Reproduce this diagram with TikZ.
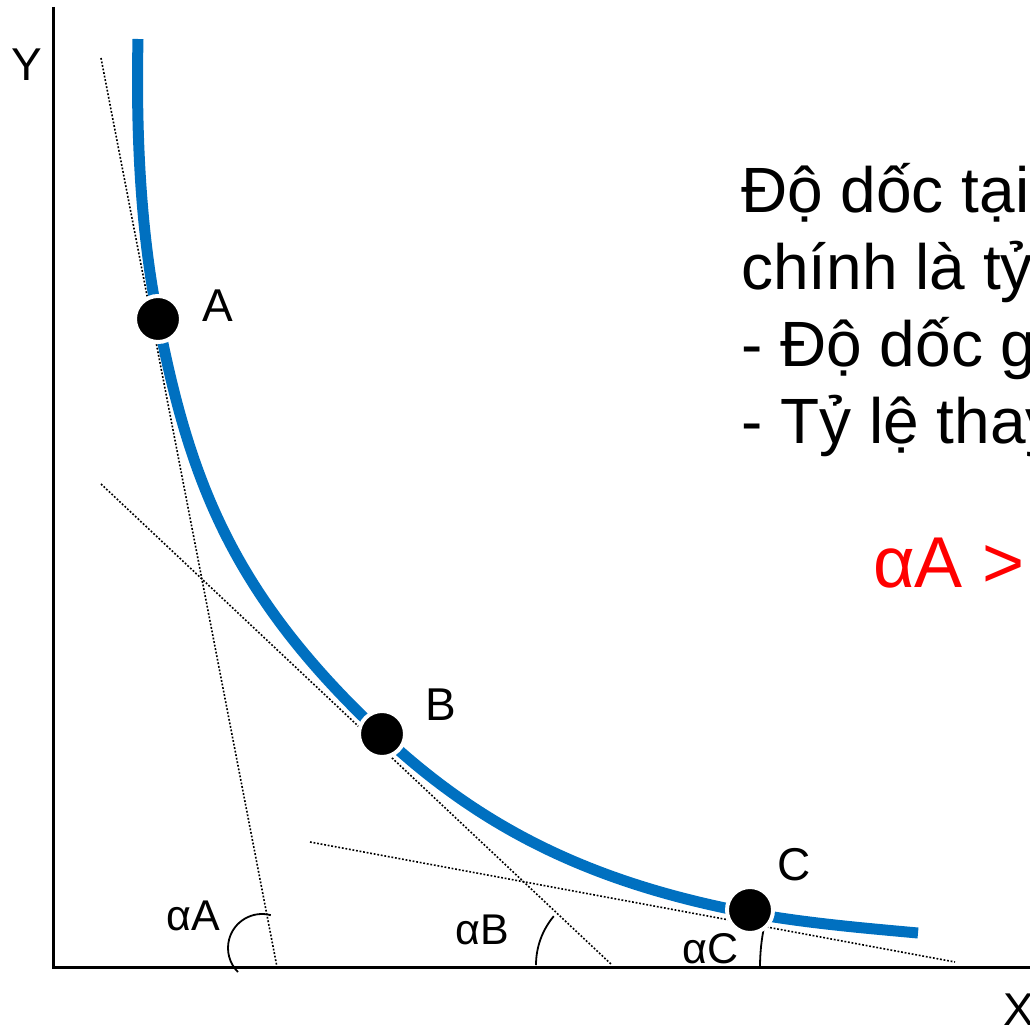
\documentclass[tikz,border=0pt]{standalone}
\usepackage{fontspec}
\setmainfont{Liberation Sans}
\definecolor{iceblue}{HTML}{0070C0}
\definecolor{icered}{HTML}{FF0000}
\tikzset{
    axis/.style={line width=3pt},
    tangent/.style={line width=1.6pt,dash pattern=on 1.8pt off 1.8pt},
    indiff/.style={draw=iceblue,line width=11pt},
    point/.style={circle,fill=black,draw=white,line width=4pt,minimum size=46pt,inner sep=0pt},
    ptlabel/.style={anchor=base west,inner sep=0pt,font=\fontsize{46}{50}\selectfont},
    anglabel/.style={anchor=base west,inner sep=0pt,font=\fontsize{43}{47}\selectfont},
    angarc/.style={line width=1.8pt},
    bodytext/.style={anchor=base west,inner sep=0pt,font=\fontsize{64}{77}\selectfont},
}

\begin{document}
\begin{tikzpicture}[x=1pt,y=-1pt]
    \clip (0,0) rectangle (1030,1027);
    % axes
    \coordinate (O) at (53,967);
    \coordinate (ytop) at (53,7);
    \coordinate (xend) at (1040,967);
    \draw[axis] (ytop) -- (O) -- (xend);
    \node[ptlabel] (ylab) at (11,81) {Y};
    \node[ptlabel] (xlab) at (1003,1025) {X};
    % indifference curve
    \draw[indiff] (138,39) .. controls (136,130) and (140,229) .. (158,319)
        .. controls (190,482) and (233,595) .. (381,734)
        .. controls (481,828) and (591,883) .. (750,913)
        .. controls (805,923) and (863,928) .. (918,933);
    % tangents
    \coordinate (tA1) at (101,58);
    \coordinate (tA2) at (277,967);
    \coordinate (tB1) at (101,484);
    \coordinate (tB2) at (612,965);
    \coordinate (tC1) at (310,842);
    \coordinate (tC2) at (955,962);
    \draw[tangent] (tA1) -- (tA2);
    \draw[tangent] (tB1) -- (tB2);
    \draw[tangent] (tC1) -- (tC2);
    % angles
    \draw[angarc] (262,948) ++(-75:34) arc[start angle=-75,end angle=-225,radius=34];
    \draw[angarc] (tB2) ++(-140:76) arc[start angle=-140,end angle=-180,radius=76];
    \draw[angarc] (960,967) ++(-168:200) arc[start angle=-168,end angle=-180,radius=200];
    \node[anglabel] (aA) at (166,930) {αA};
    \node[anglabel] (aB) at (455,944) {αB};
    \node[anglabel] (aC) at (682,963) {αC};
    % points
    \node[point] (A) at (158,319) {};
    \node[point] (B) at (382,734) {};
    \node[point] (C) at (750,910) {};
    \node[ptlabel] (labA) at (202,321) {A};
    \node[ptlabel] (labB) at (425,720) {B};
    \node[ptlabel] (labC) at (777,880) {C};
    % text
    \node[bodytext] (l1) at (741,212) {Độ dốc tại};
    \node[bodytext] (l2) at (741,289) {chính là tỷ};
    \node[bodytext] (l3) at (741,366) {- Độ dốc g};
    \node[bodytext] (l4) at (741,443) {- Tỷ lệ thay};
    \node[bodytext,text=icered,font=\fontsize{72}{80}\selectfont] (cmp) at (873,587) {αA >};
\end{tikzpicture}
\end{document}
